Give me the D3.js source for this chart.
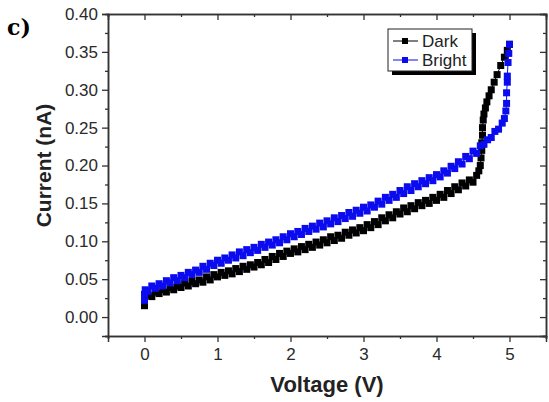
<!DOCTYPE html>
<html>
<head>
<meta charset="utf-8">
<script src="https://cdn.jsdelivr.net/npm/d3@7"></script>
<style>
  body { margin: 0; background: #fff; }
  svg { display: block; }
</style>
</head>
<body>
<div id="chart"></div>
<script>
// Dark sweep (voltage in V, current in nA)
const darkVoltage = [0, 0, 0.05, 0.10, 0.15, 0.20, 0.25, 0.30, 0.35, 0.40, 0.45, 0.50, 0.55, 0.60, 0.65, 0.70, 0.75, 0.80, 0.85, 0.90, 0.95,
  1.00, 1.05, 1.10, 1.15, 1.20, 1.25, 1.30, 1.35, 1.40, 1.45, 1.50, 1.55, 1.60, 1.65, 1.70, 1.75, 1.80, 1.85, 1.90, 1.95,
  2.00, 2.05, 2.10, 2.15, 2.20, 2.25, 2.30, 2.35, 2.40, 2.45, 2.50, 2.55, 2.60, 2.65, 2.70, 2.75, 2.80, 2.85, 2.90, 2.95,
  3.00, 3.05, 3.10, 3.15, 3.20, 3.25, 3.30, 3.35, 3.40, 3.45, 3.50, 3.55, 3.60, 3.65, 3.70, 3.75, 3.80, 3.85, 3.90, 3.95,
  4.00, 4.05, 4.10, 4.15, 4.20, 4.25, 4.30, 4.35, 4.40, 4.45, 4.50, 4.55, 4.58, 4.60, 4.61, 4.62, 4.62, 4.63, 4.63, 4.64,
  4.65, 4.67, 4.69, 4.72, 4.75, 4.79, 4.83, 4.88, 4.93, 4.97, 5.00];
const darkCurrent = [0.015, 0.025, 0.029, 0.027, 0.033, 0.031, 0.036, 0.033, 0.039, 0.036, 0.041, 0.039, 0.045, 0.041, 0.047, 0.044, 0.049, 0.046, 0.053, 0.049, 0.056,
  0.053, 0.059, 0.055, 0.061, 0.057, 0.064, 0.060, 0.067, 0.063, 0.069, 0.066, 0.072, 0.069, 0.076, 0.072, 0.080, 0.076, 0.084, 0.080, 0.087,
  0.084, 0.090, 0.086, 0.093, 0.089, 0.096, 0.092, 0.099, 0.095, 0.102, 0.098, 0.106, 0.101, 0.108, 0.104, 0.112, 0.108, 0.115, 0.111, 0.118,
  0.114, 0.122, 0.118, 0.126, 0.122, 0.131, 0.127, 0.135, 0.131, 0.139, 0.136, 0.144, 0.139, 0.147, 0.143, 0.151, 0.147, 0.154, 0.150, 0.158,
  0.154, 0.162, 0.158, 0.167, 0.163, 0.172, 0.168, 0.177, 0.173, 0.181, 0.178, 0.187, 0.193, 0.200, 0.210, 0.220, 0.230, 0.240, 0.250, 0.260,
  0.268, 0.276, 0.284, 0.292, 0.300, 0.310, 0.320, 0.332, 0.343, 0.352, 0.360];

// Bright sweep
const brightVoltage = [0, 0, 0.01, 0.05, 0.10, 0.15, 0.20, 0.25, 0.30, 0.35, 0.40, 0.45, 0.50, 0.55, 0.60, 0.65, 0.70, 0.75, 0.80, 0.85, 0.90, 0.95,
  1.00, 1.05, 1.10, 1.15, 1.20, 1.25, 1.30, 1.35, 1.40, 1.45, 1.50, 1.55, 1.60, 1.65, 1.70, 1.75, 1.80, 1.85, 1.90, 1.95,
  2.00, 2.05, 2.10, 2.15, 2.20, 2.25, 2.30, 2.35, 2.40, 2.45, 2.50, 2.55, 2.60, 2.65, 2.70, 2.75, 2.80, 2.85, 2.90, 2.95,
  3.00, 3.05, 3.10, 3.15, 3.20, 3.25, 3.30, 3.35, 3.40, 3.45, 3.50, 3.55, 3.60, 3.65, 3.70, 3.75, 3.80, 3.85, 3.90, 3.95,
  4.00, 4.05, 4.10, 4.15, 4.20, 4.25, 4.30, 4.35, 4.40, 4.45, 4.50, 4.55, 4.60, 4.65, 4.70, 4.75, 4.80, 4.85, 4.90, 4.93,
  4.95, 4.96, 4.96, 4.97, 4.97, 4.98, 4.99, 5.00];
const brightCurrent = [0.022, 0.030, 0.036, 0.034, 0.041, 0.038, 0.044, 0.041, 0.048, 0.045, 0.052, 0.048, 0.055, 0.052, 0.059, 0.056, 0.062, 0.059, 0.067, 0.063, 0.071, 0.068,
  0.075, 0.071, 0.078, 0.075, 0.082, 0.078, 0.086, 0.081, 0.089, 0.085, 0.092, 0.088, 0.096, 0.092, 0.099, 0.095, 0.102, 0.098, 0.106, 0.102,
  0.110, 0.106, 0.113, 0.109, 0.117, 0.113, 0.120, 0.116, 0.124, 0.119, 0.127, 0.123, 0.131, 0.126, 0.134, 0.130, 0.138, 0.133, 0.141, 0.137,
  0.145, 0.140, 0.148, 0.145, 0.153, 0.149, 0.158, 0.154, 0.162, 0.158, 0.167, 0.163, 0.172, 0.167, 0.176, 0.172, 0.180, 0.176, 0.184, 0.180,
  0.188, 0.185, 0.193, 0.190, 0.199, 0.196, 0.205, 0.202, 0.212, 0.209, 0.219, 0.216, 0.226, 0.228, 0.234, 0.237, 0.245, 0.248, 0.256, 0.262,
  0.272, 0.282, 0.296, 0.310, 0.318, 0.336, 0.348, 0.360];

const xMajorTicks = [0, 1, 2, 3, 4, 5];
const xMinorTicks = [-0.5, 0.5, 1.5, 2.5, 3.5, 4.5, 5.5];
const yMajorTicks = [0, 0.05, 0.10, 0.15, 0.20, 0.25, 0.30, 0.35, 0.40];
const yMinorTicks = [-0.025, 0.025, 0.075, 0.125, 0.175, 0.225, 0.275, 0.325, 0.375];

const series = [
  { name: "Dark", color: "#000000", v: darkVoltage, i: darkCurrent },
  { name: "Bright", color: "#0b0bf0", v: brightVoltage, i: brightCurrent }
];

const W = 549, H = 402;
const margin = { left: 108, top: 14, right: 3, bottom: 66 };
const innerW = W - margin.left - margin.right;
const innerH = H - margin.top - margin.bottom;

const svg = d3.select("#chart").append("svg")
  .attr("width", W).attr("height", H)
  .style("font-family", "Arial, 'Liberation Sans', sans-serif");

const x = d3.scaleLinear().domain([-0.5, 5.5]).range([0, innerW]);
const y = d3.scaleLinear().domain([-0.025, 0.40]).range([innerH, 0]);

const g = svg.append("g").attr("transform", `translate(${margin.left},${margin.top})`);

// --- data ---
const ms = 7; // marker size
series.forEach(s => {
  const pts = s.v.map((v, k) => [v, s.i[k]]);
  g.append("path")
    .attr("d", d3.line().x(d => x(d[0])).y(d => y(d[1]))(pts))
    .attr("fill", "none")
    .attr("stroke", s.color)
    .attr("stroke-width", 1);
  g.append("g").selectAll("rect")
    .data(pts)
    .join("rect")
    .attr("x", d => x(d[0]) - ms / 2)
    .attr("y", d => y(d[1]) - ms / 2)
    .attr("width", ms).attr("height", ms)
    .attr("fill", s.color);
});

// --- axes ---
const axisColor = "#333";
function styleAxis(sel) {
  sel.select(".domain").attr("stroke", axisColor).attr("stroke-width", 1.5);
  sel.selectAll(".tick line").attr("stroke", axisColor).attr("stroke-width", 1.3);
  sel.selectAll(".tick text").attr("fill", "#2a2a2a").style("font-size", "17px");
}

g.append("g").attr("transform", `translate(0,${innerH})`)
  .call(d3.axisBottom(x).tickValues(xMajorTicks).tickSize(6).tickPadding(6).tickFormat(d3.format("d")))
  .call(styleAxis);
g.append("g").attr("transform", `translate(0,${innerH})`)
  .call(d3.axisBottom(x).tickValues(xMinorTicks).tickSize(3).tickFormat(""))
  .call(styleAxis);

g.append("g")
  .call(d3.axisLeft(y).tickValues(yMajorTicks).tickSize(6).tickPadding(4).tickFormat(d3.format(".2f")))
  .call(styleAxis);
g.append("g")
  .call(d3.axisLeft(y).tickValues(yMinorTicks).tickSize(3).tickFormat(""))
  .call(styleAxis);

// mirrored axes, ticks pointing inward
g.append("g")
  .call(d3.axisTop(x).tickValues(xMajorTicks).tickSize(-6).tickFormat(""))
  .call(styleAxis);
g.append("g")
  .call(d3.axisTop(x).tickValues(xMinorTicks).tickSize(-3).tickFormat(""))
  .call(styleAxis);
g.append("g").attr("transform", `translate(${innerW},0)`)
  .call(d3.axisRight(y).tickValues(yMajorTicks).tickSize(-6).tickFormat(""))
  .call(styleAxis);
g.append("g").attr("transform", `translate(${innerW},0)`)
  .call(d3.axisRight(y).tickValues(yMinorTicks).tickSize(-3).tickFormat(""))
  .call(styleAxis);

// --- axis titles ---
svg.append("text")
  .attr("x", margin.left + x(2.5))
  .attr("y", 392)
  .attr("text-anchor", "middle")
  .style("font-size", "22px").style("font-weight", "bold")
  .attr("fill", "#222")
  .text("Voltage (V)");

svg.append("text")
  .attr("transform", `translate(51,${margin.top + y(0.2)}) rotate(-90)`)
  .attr("text-anchor", "middle")
  .style("font-size", "21px").style("font-weight", "bold")
  .attr("fill", "#222")
  .text("Current (nA)");

svg.append("text")
  .attr("x", 7).attr("y", 35)
  .style("font-family", "'DejaVu Serif', 'Liberation Serif', serif")
  .style("font-size", "22px").style("font-weight", "bold")
  .text("c)");

// --- legend ---
const lg = svg.append("g").attr("transform", "translate(388,29)");
lg.append("rect").attr("x", 4).attr("y", 4).attr("width", 84).attr("height", 42).attr("fill", "#000");
lg.append("rect").attr("x", 0).attr("y", 0).attr("width", 84).attr("height", 42)
  .attr("fill", "#fff").attr("stroke", "#222").attr("stroke-width", 1);
series.forEach((s, k) => {
  const ly = 12 + k * 19;
  lg.append("line").attr("x1", 5).attr("x2", 30).attr("y1", ly).attr("y2", ly)
    .attr("stroke", s.color).attr("stroke-width", 1);
  lg.append("rect").attr("x", 14).attr("y", ly - 3).attr("width", 6).attr("height", 6).attr("fill", s.color);
  lg.append("text").attr("x", 34).attr("y", ly + 6)
    .style("font-size", "17px").attr("fill", "#222").text(s.name);
});
</script>
</body>
</html>
